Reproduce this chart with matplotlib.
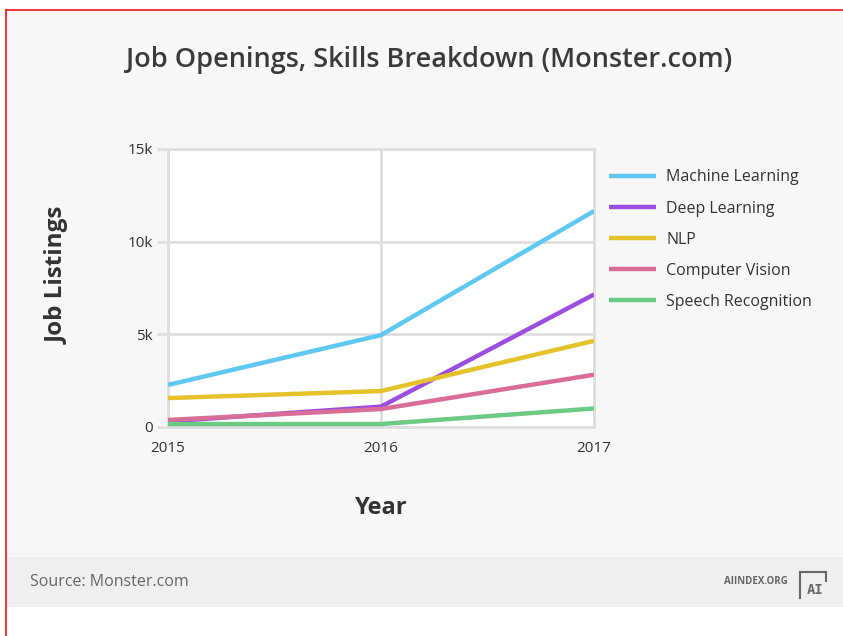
import numpy as np
import matplotlib.pyplot as plt
from matplotlib.lines import Line2D
from matplotlib.patches import Rectangle

# data
years = [2015, 2016, 2017]
skills = ["Machine Learning", "Deep Learning", "NLP", "Computer Vision", "Speech Recognition"]
machine_learning = [2270, 4960, 11650]
deep_learning = [300, 1100, 7150]
nlp = [1560, 1940, 4650]
computer_vision = [380, 970, 2820]
speech_recognition = [160, 160, 1000]
series = [machine_learning, deep_learning, nlp, computer_vision, speech_recognition]
colors = ["#5fc8f2", "#9b4ddf", "#e5c22a", "#d96d98", "#6ccb82"]
yticks = [0, 5000, 10000, 15000]
ytick_labels = ["0", "5k", "10k", "15k"]

W, H = 843, 636
plt.rcParams['font.family'] = ['Open Sans', 'DejaVu Sans']

def fx(px):
    return px / W

def fy(py):
    return 1 - py / H

fig = plt.figure(figsize=(W / 100, H / 100), dpi=100)
fig.patch.set_facecolor("white")

# panel backgrounds and red frame
fig.patches.append(Rectangle((fx(6), fy(557)), 1, fy(10) - fy(557), transform=fig.transFigure,
                             facecolor="#f7f7f7", edgecolor="none", zorder=-10))
fig.patches.append(Rectangle((fx(6), fy(607)), 1, fy(557) - fy(607), transform=fig.transFigure,
                             facecolor="#efefef", edgecolor="none", zorder=-10))
fig.lines.append(Line2D([fx(6), 1], [fy(10), fy(10)], transform=fig.transFigure, color="#e8161b", lw=1.2))
fig.lines.append(Line2D([fx(6), fx(6)], [fy(10), 0], transform=fig.transFigure, color="#e8161b", lw=1.2))

ax = fig.add_axes([fx(168), fy(427), fx(594) - fx(168), fy(149) - fy(427)])
ax.set_zorder(1)
ax.set_facecolor("white")
for i, name in enumerate(skills):
    ax.plot(years, series[i], color=colors[i], lw=3.2, label=name, solid_capstyle="butt", zorder=3)

ax.set_xlim(2015, 2017)
ax.set_ylim(0, 15000)
ax.set_xticks(years)
ax.set_xticklabels([str(y) for y in years])
ax.set_yticks(yticks)
ax.set_yticklabels(ytick_labels)
ax.grid(True, color="#dedede", lw=2)
for s in ax.spines.values():
    s.set_color("#dedede")
    s.set_linewidth(2)
ax.tick_params(axis="y", length=8, width=2, color="#dedede", labelsize=11, labelcolor="#333333", pad=3)
ax.tick_params(axis="x", length=0, labelsize=11, labelcolor="#333333", pad=10)

fig.text(fx(429), fy(60), "Job Openings, Skills Breakdown (Monster.com)", ha="center", va="center",
         fontsize=19.5, fontweight="semibold", color="#3a3a3a")
fig.text(fx(58), fy(275), "Job Listings", ha="center", va="center", rotation=90,
         fontsize=17.5, fontweight="bold", color="#333333")
fig.text(fx(381), fy(508), "Year", ha="center", va="center", fontsize=17, fontweight="bold", color="#333333")

ax.legend(loc="upper left", bbox_to_anchor=(fx(603), fy(163)), bbox_transform=fig.transFigure,
          frameon=False, fontsize=11.5, handlelength=2.9, handletextpad=0.65, labelspacing=0.95,
          borderaxespad=0, labelcolor="#333333")

# footer
fig.text(fx(30), fy(582), "Source: Monster.com", ha="left", va="center", fontsize=11.5, color="#666666")
fig.text(fx(788), fy(582), "AIINDEX.ORG", ha="right", va="center", fontsize=7, fontweight="bold", color="#666666")
logo = [([800, 800], [598, 572]), ([800, 826], [572, 572]), ([826, 826], [572, 581])]
for xs, ys in logo:
    fig.lines.append(Line2D([fx(x) for x in xs], [fy(y) for y in ys], transform=fig.transFigure,
                            color="#666666", lw=1.5))
fig.text(fx(815), fy(590), "AI", ha="center", va="center", fontsize=10, fontweight="bold",
         family="DejaVu Sans Mono", color="#666666")

fig.savefig("out.png", dpi=100, facecolor=fig.get_facecolor())
